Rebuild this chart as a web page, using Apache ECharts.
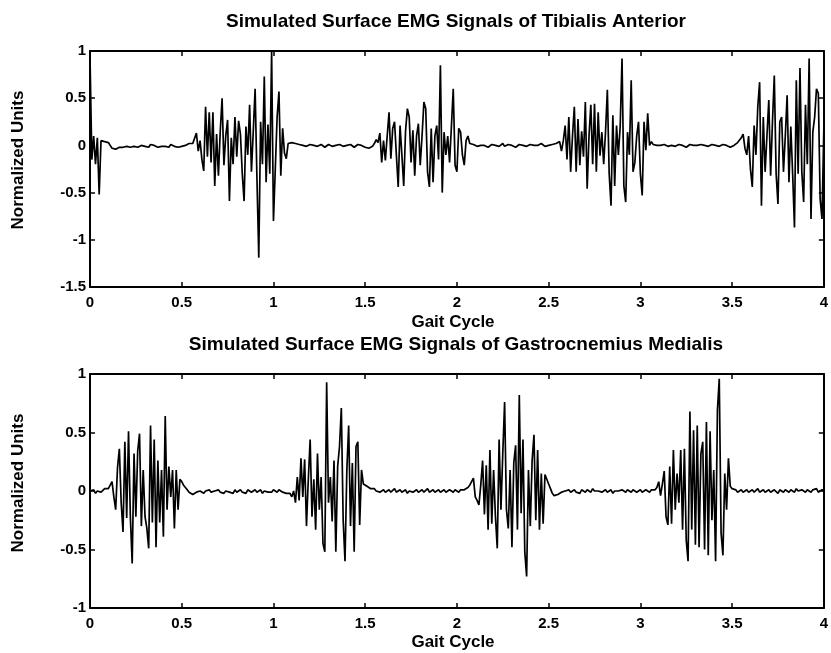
<!DOCTYPE html>
<html>
<head>
<meta charset="utf-8">
<script src="https://cdn.jsdelivr.net/npm/echarts@6/dist/echarts.min.js"></script>
<style>
  html, body { margin: 0; padding: 0; background: #fff; }
  #chart { width: 831px; height: 653px; }
</style>
</head>
<body>
<div id="chart"></div>
<script>
// sampling step of both traces (gait cycles)
const sampleStep = 0.01;

// Tibialis Anterior, one value per 0.01 gait cycle
const taValues = [
  0.95, -0.15, 0.1, -0.2, 0.08, -0.52, 0.05, 0.07, 0.04, 0.02,
  0.03, 0.0, -0.03, -0.05, -0.04, -0.03, -0.02, -0.01, -0.02, 0.0,
  -0.01, 0.01, -0.02, 0.0, -0.01, 0.01, -0.02, -0.01, 0.0, 0.01,
  -0.01, 0.0, -0.02, 0.01, -0.01, 0.0, 0.01, -0.02, 0.0, -0.01,
  0.01, -0.01, 0.0, -0.02, 0.01, 0.0, -0.01, 0.01, -0.02, 0.0,
  -0.01, 0.01, 0.0, -0.01, 0.02, 0.03, 0.02, 0.04, 0.13, -0.06,
  0.05, -0.15, -0.27, 0.41, -0.12, 0.35, -0.18, 0.35, -0.43, 0.12,
  -0.32, 0.15, 0.50, -0.21, 0.1, 0.27, -0.59, 0.08, -0.2, 0.30,
  -0.12, 0.26, 0.12, -0.30, -0.59, 0.2, -0.1, 0.43, -0.28, 0.15,
  0.60, -0.35, -1.19, 0.25, -0.2, 0.73, -0.39, 0.22, -0.3, 0.99,
  -0.80, -0.25, 0.3, 0.57, -0.32, 0.18, -0.08, -0.14, 0.02, 0.01,
  0.03, 0.03, 0.02, 0.0, 0.01, -0.01, 0.0, 0.01, -0.01, 0.0,
  0.01, -0.01, 0.0, 0.02, -0.01, 0.0, 0.01, -0.01, -0.02, 0.0,
  0.01, 0.0, -0.01, 0.01, 0.0, -0.02, 0.01, 0.0, -0.01, 0.01,
  0.0, -0.01, 0.01, 0.0, -0.02, 0.0, 0.01, -0.01, 0.0, -0.01,
  -0.02, -0.01, -0.03, -0.02, -0.01, 0.02, 0.06, 0.03, 0.13, -0.18,
  0.05, -0.16, 0.1, 0.35, -0.14, 0.18, 0.25, -0.1, -0.44, 0.21,
  -0.1, -0.43, 0.15, 0.39, 0.3, -0.18, 0.16, -0.32, 0.1, 0.23,
  -0.21, 0.1, 0.46, 0.39, -0.28, -0.44, 0.18, -0.39, 0.1, 0.21,
  -0.15, 0.85, -0.50, 0.14, -0.1, 0.1, -0.18, 0.2, 0.60, -0.21,
  -0.28, 0.18, 0.14, -0.1, -0.21, 0.05, 0.1, 0.02, 0.0, 0.01,
  0.0, -0.01, 0.01, 0.0, -0.01, 0.0, 0.01, -0.02, 0.0, 0.01,
  -0.01, 0.0, 0.01, -0.01, 0.0, 0.02, -0.01, 0.0, 0.01, -0.01,
  0.0, 0.01, -0.02, 0.0, 0.01, -0.01, 0.0, 0.01, -0.01, 0.0,
  0.01, -0.01, 0.0, 0.01, 0.0, -0.01, 0.02, 0.0, -0.01, 0.01,
  0.0, -0.01, 0.01, 0.0, 0.02, 0.01, 0.04, -0.06, 0.05, 0.21,
  -0.15, 0.30, -0.28, 0.1, 0.41, -0.28, 0.28, -0.21, 0.15, -0.12,
  0.46, -0.46, 0.1, 0.43, -0.2, 0.44, -0.28, 0.35, -0.11, 0.14,
  -0.2, 0.14, 0.59, -0.3, -0.64, 0.32, -0.43, 0.21, -0.1, 0.2,
  0.92, -0.43, -0.60, 0.14, -0.1, 0.69, -0.28, -0.18, 0.1, 0.25,
  -0.3, -0.53, 0.25, -0.05, 0.34, 0.0, 0.04, 0.01, 0.01, 0.0,
  0.01, 0.0, -0.01, 0.01, 0.0, -0.01, 0.01, 0.0, 0.02, -0.01,
  0.0, 0.01, -0.01, 0.0, 0.01, -0.02, 0.0, 0.01, -0.01, 0.0,
  0.01, 0.0, -0.01, 0.01, -0.01, 0.0, 0.02, -0.01, 0.0, 0.01,
  -0.01, 0.0, 0.01, -0.01, 0.0, 0.01, -0.01, 0.0, -0.01, -0.02,
  -0.01, 0.0, 0.02, 0.03, 0.05, 0.08, 0.12, -0.03, -0.1, 0.1,
  -0.25, -0.44, 0.21, -0.1, 0.41, 0.67, -0.64, 0.3, -0.28, 0.1,
  0.48, -0.32, 0.25, 0.74, -0.3, -0.62, 0.25, 0.3, -0.28, 0.1,
  0.53, -0.39, 0.2, -0.3, -0.87, 0.69, -0.3, 0.82, -0.28, -0.60,
  0.43, -0.2, 0.92, -0.78, 0.14, 0.3, 0.6, 0.55, -0.57, -0.78,
  0.18
];

// Gastrocnemius Medialis, same sampling
const gmValues = [
  0.0, -0.01, 0.01, -0.02, 0.0, 0.01, -0.01, 0.0, 0.02, 0.01,
  0.02, 0.05, 0.08, -0.05, -0.16, 0.2, 0.36, -0.1, -0.35, 0.42,
  -0.23, 0.51, -0.22, -0.62, 0.32, -0.22, 0.34, 0.49, -0.3, 0.18,
  -0.22, -0.32, -0.49, 0.56, -0.27, 0.44, -0.48, 0.26, -0.27, 0.18,
  -0.39, 0.64, -0.16, 0.21, -0.05, 0.18, -0.32, 0.18, -0.16, 0.1,
  0.08, 0.05, 0.03, 0.01, -0.01, -0.02, -0.03, -0.02, -0.01, -0.02,
  0.0, -0.01, -0.02, 0.0, -0.01, 0.01, -0.01, -0.02, 0.0, -0.01,
  0.01, -0.01, 0.0, -0.02, 0.0, 0.01, -0.01, 0.0, -0.02, 0.01,
  -0.01, 0.0, 0.01, -0.01, 0.0, -0.02, 0.01, 0.0, -0.01, 0.0,
  0.01, -0.01, 0.0, 0.01, -0.02, 0.0, 0.01, -0.01, 0.0, -0.01,
  0.01, 0.0, -0.01, 0.01, 0.0, -0.01, 0.0, -0.02, -0.01, -0.02,
  -0.05, 0.0, -0.1, 0.12, -0.08, 0.28, -0.05, 0.27, -0.3, 0.1,
  0.44, -0.22, 0.1, -0.33, 0.32, -0.16, 0.12, -0.45, -0.52, 0.93,
  -0.1, 0.12, -0.26, 0.26, -0.52, 0.21, 0.38, 0.71, -0.25, -0.60,
  0.18, 0.56, -0.3, 0.24, -0.52, 0.38, 0.42, -0.29, 0.18, 0.06,
  0.05, 0.04, 0.03, 0.02, 0.01, 0.02, 0.0, 0.01, -0.01, 0.0,
  0.01, -0.01, 0.0, 0.01, -0.01, 0.0, 0.02, -0.01, 0.0, 0.01,
  -0.01, 0.0, 0.01, -0.02, 0.0, 0.01, -0.01, 0.0, 0.01, -0.01,
  0.0, 0.01, -0.01, 0.0, 0.02, -0.01, 0.0, 0.01, -0.01, 0.0,
  0.01, -0.01, 0.0, 0.01, -0.01, 0.0, 0.01, 0.0, -0.01, 0.01,
  0.0, -0.01, 0.01, 0.0, 0.01, 0.02, 0.03, 0.05, 0.05, 0.11,
  -0.05, -0.08, -0.12, 0.05, 0.26, -0.2, 0.22, -0.33, 0.35, -0.28,
  0.18, -0.22, -0.49, 0.44, -0.16, 0.32, 0.76, -0.16, -0.32, 0.18,
  -0.48, 0.24, 0.39, -0.33, 0.82, -0.19, 0.44, -0.52, -0.73, 0.18,
  -0.3, 0.26, 0.48, -0.25, 0.35, -0.33, 0.15, -0.28, 0.14, 0.1,
  0.06, 0.02, -0.02, -0.04, -0.05, -0.03, -0.02, -0.01, -0.02, 0.0,
  -0.01, 0.01, -0.01, 0.0, 0.01, -0.01, 0.0, -0.02, 0.01, 0.0,
  -0.01, 0.01, 0.0, -0.01, 0.02, 0.0, -0.01, 0.0, 0.01, -0.01,
  0.0, 0.01, -0.01, 0.0, 0.01, -0.02, 0.0, 0.01, 0.0, -0.01,
  0.01, 0.0, -0.01, 0.01, 0.0, -0.01, 0.01, 0.0, -0.01, 0.0,
  0.01, -0.01, 0.0, 0.01, 0.0, -0.01, 0.01, 0.02, 0.01, 0.03,
  0.08, -0.04, 0.06, 0.17, -0.22, -0.29, 0.21, -0.28, 0.35, -0.16,
  0.15, -0.1, 0.35, -0.33, 0.36, -0.42, -0.60, 0.68, -0.33, 0.52,
  -0.46, 0.56, -0.48, 0.32, 0.42, -0.50, 0.59, -0.55, 0.51, -0.25,
  0.18, -0.60, 0.69, 0.96, -0.36, -0.55, 0.15, -0.16, 0.28, 0.04,
  0.02, 0.03, 0.01, -0.01, 0.0, 0.01, -0.01, 0.0, 0.01, -0.01,
  0.0, 0.01, -0.01, 0.0, 0.02, -0.01, 0.0, 0.01, -0.01, 0.0,
  0.01, -0.01, 0.0, 0.01, 0.0, -0.02, 0.01, 0.0, -0.01, 0.01,
  0.0, -0.01, 0.01, 0.0, -0.01, 0.02, 0.0, -0.01, 0.01, 0.0,
  -0.01, 0.01, 0.0, -0.01, 0.01, 0.0, 0.02, -0.01, 0.0, 0.01,
  0.0
];

const xTicks = [0, 0.5, 1, 1.5, 2, 2.5, 3, 3.5, 4];
const taYTicks = [-1.5, -1, -0.5, 0, 0.5, 1];
const gmYTicks = [-1, -0.5, 0, 0.5, 1];

const titles = [
  'Simulated Surface EMG Signals of Tibialis Anterior',
  'Simulated Surface EMG Signals of Gastrocnemius Medialis'
];
const xName = 'Gait Cycle';
const yName = 'Normalized Units';

const FONT = '"Liberation Sans", Arial, sans-serif';
const labelStyle = { color: '#000', fontSize: 15, fontWeight: 'bold', fontFamily: FONT };
const lineStyle = { color: '#000', width: 2 };

const toPairs = (values) => values.map((v, i) => [+(i * sampleStep).toFixed(2), v]);

const xAxisFor = (gridIndex, position) => ({
    type: 'value',
    gridIndex,
    position,
    min: xTicks[0],
    max: xTicks[xTicks.length - 1],
    interval: xTicks[1] - xTicks[0],
    axisLine: { show: true, onZero: false, lineStyle },
    axisTick: { show: true, inside: true, length: 5, lineStyle: { color: '#000', width: 1.5 } },
    axisLabel: position === 'bottom'
        ? { show: true, margin: 8, ...labelStyle }
        : { show: false },
    splitLine: { show: false }
});

const yAxisFor = (gridIndex, position, ticks) => ({
    type: 'value',
    gridIndex,
    position,
    min: ticks[0],
    max: ticks[ticks.length - 1],
    interval: ticks[1] - ticks[0],
    axisLine: { show: true, onZero: false, lineStyle },
    axisTick: { show: true, inside: true, length: 5, lineStyle: { color: '#000', width: 1.5 } },
    axisLabel: position === 'left'
        ? { show: true, margin: 4, ...labelStyle }
        : { show: false },
    splitLine: { show: false }
});

const textEl = (x, y, text, size, rotation) => ({
    type: 'text',
    x, y,
    rotation: rotation || 0,
    style: {
        text,
        fill: '#000',
        font: 'bold ' + size + 'px ' + FONT,
        align: 'center',
        verticalAlign: 'middle'
    }
});

const chart = echarts.init(document.getElementById('chart'), null, { renderer: 'canvas' });

chart.setOption({
    animation: false,
    backgroundColor: '#fff',
    grid: [
        { left: 90, top: 51, width: 735, height: 236 },
        { left: 90, top: 374, width: 735, height: 234 }
    ],
    xAxis: [
        xAxisFor(0, 'bottom'),
        xAxisFor(0, 'top'),
        xAxisFor(1, 'bottom'),
        xAxisFor(1, 'top')
    ],
    yAxis: [
        yAxisFor(0, 'left', taYTicks),
        yAxisFor(0, 'right', taYTicks),
        yAxisFor(1, 'left', gmYTicks),
        yAxisFor(1, 'right', gmYTicks)
    ],
    graphic: [
        textEl(456, 22, titles[0], 19),
        textEl(456, 345, titles[1], 19),
        textEl(453, 322, xName, 17),
        textEl(453, 642, xName, 17),
        textEl(18, 160, yName, 17, Math.PI / 2),
        textEl(18, 483, yName, 17, Math.PI / 2)
    ],
    series: [
        {
            type: 'line',
            xAxisIndex: 0,
            yAxisIndex: 0,
            data: toPairs(taValues),
            showSymbol: false,
            sampling: null,
            lineStyle: { color: '#000', width: 1.7 },
            z: 3
        },
        {
            type: 'line',
            xAxisIndex: 2,
            yAxisIndex: 2,
            data: toPairs(gmValues),
            showSymbol: false,
            sampling: null,
            lineStyle: { color: '#000', width: 1.7 },
            z: 3
        }
    ]
});
</script>
</body>
</html>
